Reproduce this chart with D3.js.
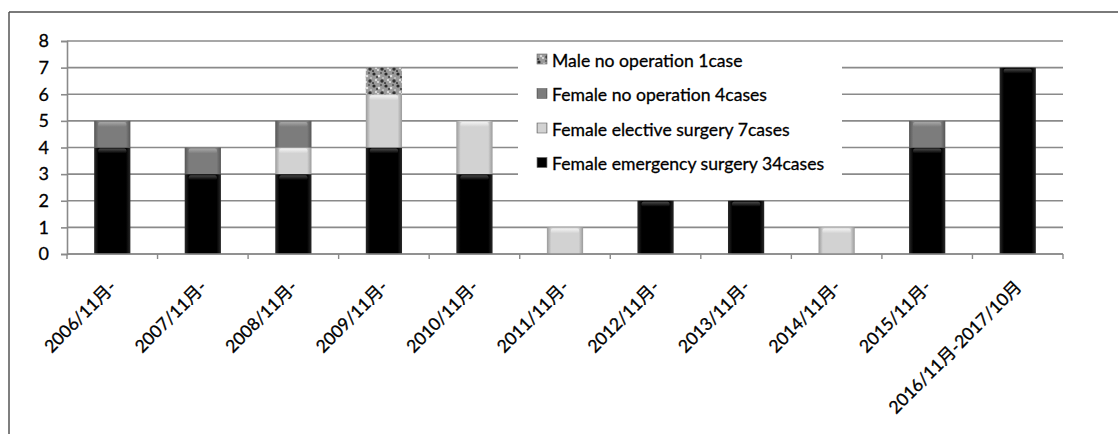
<!DOCTYPE html>
<html>
<head>
<meta charset="utf-8">
<script src="https://cdnjs.cloudflare.com/ajax/libs/d3/7.8.5/d3.min.js"></script>
<style>
  html, body { margin: 0; padding: 0; background: #fff; }
  svg { display: block; }
  text { font-family: Lato, "Noto Sans CJK JP", sans-serif; fill: #000; stroke: #000; stroke-width: 0.3px; }
</style>
</head>
<body>
<svg id="chart" width="1118" height="434"></svg>
<script>
// ---- data ----
const categories = ["2006/11月-", "2007/11月-", "2008/11月-", "2009/11月-", "2010/11月-",
  "2011/11月-", "2012/11月-", "2013/11月-", "2014/11月-", "2015/11月-", "2016/11月-2017/10月"];
const femaleEmergency = [4, 3, 3, 4, 3, 0, 2, 2, 0, 4, 7];
const femaleElective  = [0, 0, 1, 2, 2, 1, 0, 0, 1, 0, 0];
const femaleNoOp      = [1, 1, 1, 0, 0, 0, 0, 0, 0, 1, 0];
const maleNoOp        = [0, 0, 0, 1, 0, 0, 0, 0, 0, 0, 0];
const seriesKeys   = ["emergency", "elective", "femaleNoOp", "maleNoOp"];
const legendLabels = ["Male no operation 1case", "Female no operation 4cases",
  "Female elective surgery 7cases", "Female emergency surgery 34cases"];
const legendKeys   = ["maleNoOp", "femaleNoOp", "elective", "emergency"];
const yTicks = [0, 1, 2, 3, 4, 5, 6, 7, 8];

const rows = categories.map((c, i) => ({
  cat: c, emergency: femaleEmergency[i], elective: femaleElective[i],
  femaleNoOp: femaleNoOp[i], maleNoOp: maleNoOp[i]
}));

// ---- layout ----
const svg = d3.select("#chart");
const plot = { left: 67, right: 1063, top: 41, bottom: 254 };

const x = d3.scaleBand().domain(categories)
  .range([plot.left, plot.right]).paddingInner(0.6).paddingOuter(0.3);
const y = d3.scaleLinear().domain([0, 8]).range([plot.bottom, plot.top]);

// ---- defs: fills ----
const defs = svg.append("defs");
const styles = {
  emergency:  { edge: "#2a2a2a", main: "#000000", hi: "#4a4a4a" },
  elective:   { edge: "#9a9a9a", main: "#d2d2d2", hi: "#f4f4f4" },
  femaleNoOp: { edge: "#555555", main: "#7c7c7c", hi: "#a8a8a8" }
};
Object.entries(styles).forEach(([k, s]) => {
  const g = defs.append("linearGradient").attr("id", "g-" + k)
    .attr("x1", "0%").attr("x2", "100%").attr("y1", "0%").attr("y2", "0%");
  [[0, s.edge], [12, s.main], [88, s.main], [100, s.edge]].forEach(([o, c]) =>
    g.append("stop").attr("offset", o + "%").attr("stop-color", c));
  const h = defs.append("linearGradient").attr("id", "h-" + k)
    .attr("x1", "0%").attr("x2", "0%").attr("y1", "0%").attr("y2", "100%");
  h.append("stop").attr("offset", "0%").attr("stop-color", s.hi).attr("stop-opacity", 1);
  h.append("stop").attr("offset", "100%").attr("stop-color", s.hi).attr("stop-opacity", 0);
});
// speckled texture for male no-operation
const pat = defs.append("pattern").attr("id", "g-maleNoOp")
  .attr("patternUnits", "userSpaceOnUse").attr("width", 12).attr("height", 12);
pat.append("rect").attr("width", 12).attr("height", 12).attr("fill", "#9a9a9a");
[[2,2,1.6,"#2a2a2a"],[7,4,1.3,"#e0e0e0"],[10,9,1.7,"#333"],[4,8,1.2,"#d8d8d8"],
 [9,1,1.0,"#555"],[1,11,1.1,"#444"],[6,10,0.9,"#eee"],[11,6,1.0,"#c8c8c8"],[5,5,1.0,"#3a3a3a"]]
  .forEach(([cx, cy, r, c]) => pat.append("circle").attr("cx", cx).attr("cy", cy).attr("r", r).attr("fill", c));

// ---- frame (top & left border) ----
svg.append("line").attr("x1", 9).attr("x2", 1118).attr("y1", 12).attr("y2", 12)
  .attr("stroke", "#7a7a7a").attr("stroke-width", 2);
svg.append("line").attr("x1", 9).attr("x2", 9).attr("y1", 12).attr("y2", 434)
  .attr("stroke", "#555").attr("stroke-width", 1.5);

// ---- gridlines ----
svg.append("g").selectAll("line").data(yTicks).join("line")
  .attr("x1", plot.left).attr("x2", plot.right)
  .attr("y1", d => y(d)).attr("y2", d => y(d))
  .attr("stroke", "#8a8a8a").attr("stroke-width", 1.6);

// ---- y axis ----
const yAxis = svg.append("g").attr("transform", `translate(${plot.left},0)`)
  .call(d3.axisLeft(y).tickValues(yTicks).tickSize(6).tickPadding(12).tickFormat(d3.format("d")));
yAxis.select(".domain").attr("stroke", "#8a8a8a").attr("stroke-width", 1.6);
yAxis.selectAll(".tick line").attr("stroke", "#8a8a8a").attr("stroke-width", 1.6);
yAxis.selectAll("text").style("font-size", "18px").style("fill", "#000");

// ---- bars ----
const stack = d3.stack().keys(seriesKeys)(rows);
const layers = svg.append("g").selectAll("g").data(stack).join("g");
layers.each(function (layer) {
  const key = layer.key;
  const segs = d3.select(this).selectAll("g").data(layer.filter(d => d[1] > d[0])).join("g");
  segs.append("rect")
    .attr("x", d => x(d.data.cat)).attr("width", x.bandwidth())
    .attr("y", d => y(d[1])).attr("height", d => y(d[0]) - y(d[1]))
    .attr("fill", `url(#g-${key})`);
  if (key !== "maleNoOp") {
    segs.append("rect")
      .attr("x", d => x(d.data.cat) + 4).attr("width", x.bandwidth() - 8)
      .attr("y", d => y(d[1]) + 1).attr("height", 5).attr("rx", 2)
      .attr("fill", `url(#h-${key})`);
  }
});

// ---- x axis ----
const xAxisG = svg.append("g");
xAxisG.append("line").attr("x1", plot.left).attr("x2", plot.right)
  .attr("y1", plot.bottom).attr("y2", plot.bottom)
  .attr("stroke", "#8a8a8a").attr("stroke-width", 1.6);
const bounds = categories.map(c => x(c) - x.step() * x.paddingInner() / 2)
  .concat([plot.right]);
xAxisG.selectAll("line.tk").data(bounds).join("line").attr("class", "tk")
  .attr("x1", d => d).attr("x2", d => d)
  .attr("y1", plot.bottom).attr("y2", plot.bottom + 5)
  .attr("stroke", "#8a8a8a").attr("stroke-width", 1.4);
xAxisG.selectAll("text").data(categories).join("text")
  .attr("text-anchor", "end")
  .attr("transform", d => `translate(${x(d) + x.bandwidth() / 2 + 5},${plot.bottom + 34}) rotate(-45)`)
  .style("font-size", "17.5px")
  .text(d => d);

// ---- legend ----
const lg = svg.append("g");
lg.append("rect").attr("x", 518).attr("y", 43).attr("width", 324).attr("height", 152).attr("fill", "#fff");
const items = lg.selectAll("g.item").data(legendKeys).join("g").attr("class", "item")
  .attr("transform", (d, i) => `translate(537,${60 + i * 34.5})`);
items.append("rect").attr("x", 0).attr("y", -6).attr("width", 10).attr("height", 10)
  .attr("fill", d => `url(#g-${d})`).attr("stroke", "#666").attr("stroke-width", 0.6);
items.append("text").attr("x", 15).attr("y", 6.5)
  .style("font-size", "17.6px")
  .text((d, i) => legendLabels[i]);
</script>
</body>
</html>
